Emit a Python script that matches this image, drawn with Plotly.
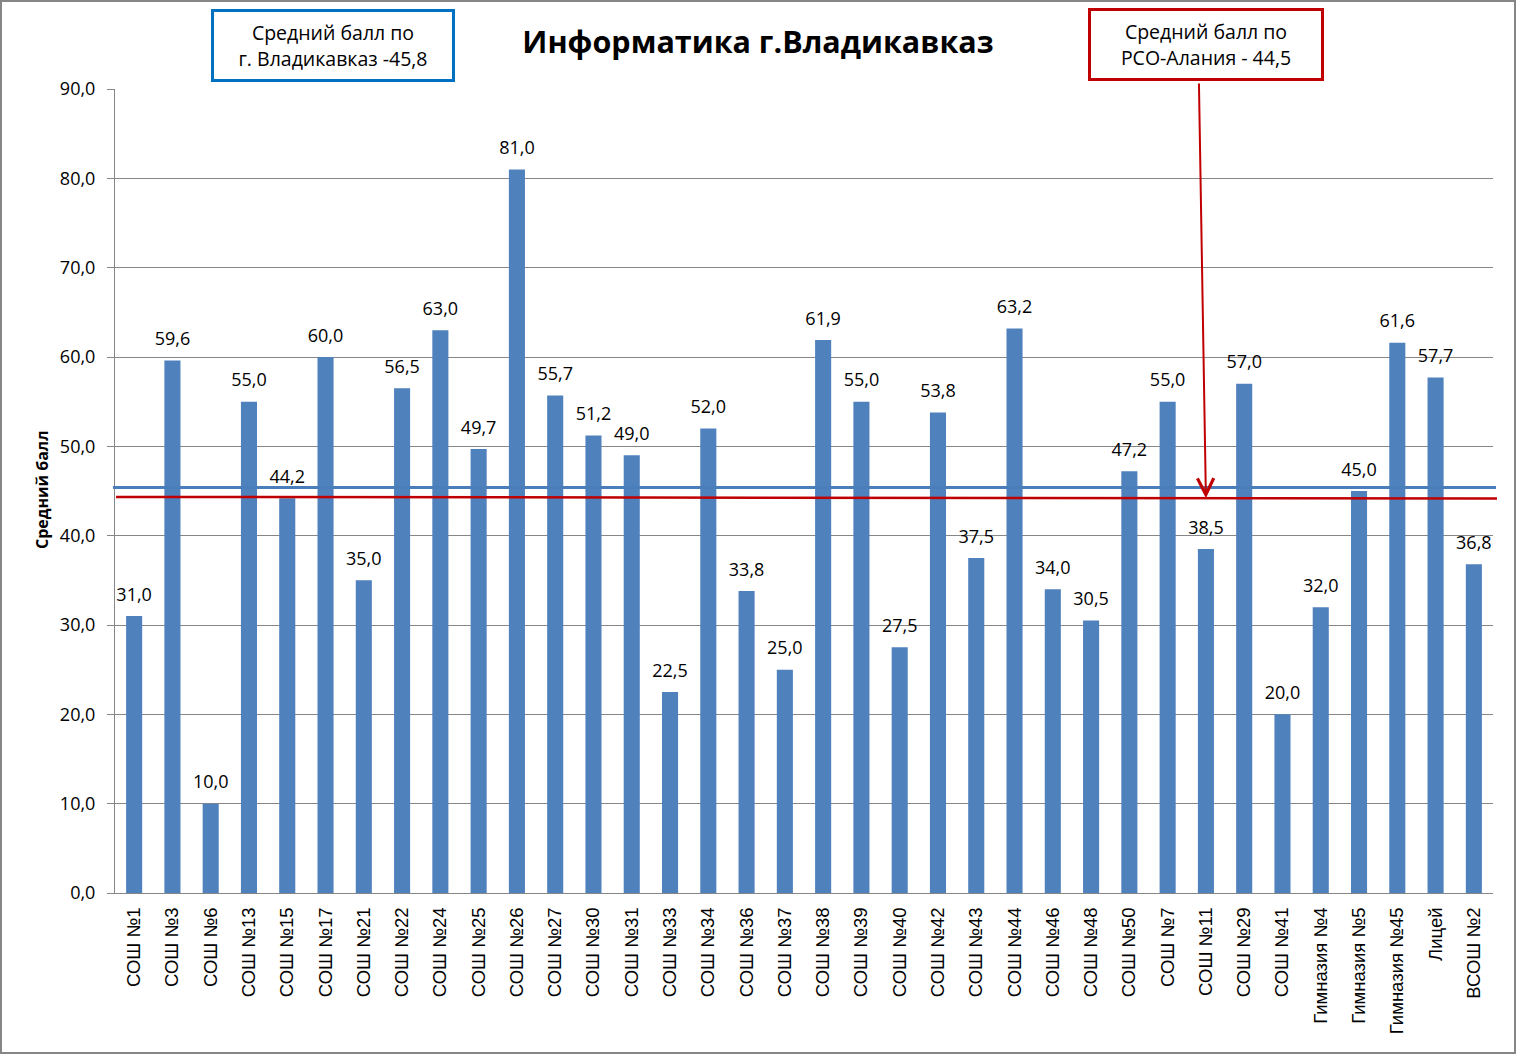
import plotly.graph_objects as go

categories = ["СОШ №1", "СОШ №3", "СОШ №6", "СОШ №13", "СОШ №15", "СОШ №17", "СОШ №21",
              "СОШ №22", "СОШ №24", "СОШ №25", "СОШ №26", "СОШ №27", "СОШ №30", "СОШ №31",
              "СОШ №33", "СОШ №34", "СОШ №36", "СОШ №37", "СОШ №38", "СОШ №39", "СОШ №40",
              "СОШ №42", "СОШ №43", "СОШ №44", "СОШ №46", "СОШ №48", "СОШ №50", "СОШ №7",
              "СОШ №11", "СОШ №29", "СОШ №41", "Гимназия №4", "Гимназия №5", "Гимназия №45",
              "Лицей", "ВСОШ №2"]
scores = [31.0, 59.6, 10.0, 55.0, 44.2, 60.0, 35.0, 56.5, 63.0, 49.7, 81.0, 55.7, 51.2, 49.0,
          22.5, 52.0, 33.8, 25.0, 61.9, 55.0, 27.5, 53.8, 37.5, 63.2, 34.0, 30.5, 47.2, 55.0,
          38.5, 57.0, 20.0, 32.0, 45.0, 61.6, 57.7, 36.8]

city_avg_line = 45.4                 # drawn line position (label says 45,8)
region_avg_line = (44.34, 44.16)     # drawn line, slightly sloped (label says 44,5)
city_label = "Средний балл по<br>г. Владикавказ -45,8"
region_label = "Средний балл по<br>РСО-Алания - 44,5"
title_text = "Информатика г.Владикавказ"
y_title = "Средний балл"

W, H = 1516, 1054
L, R, T, B = 115, 23, 89, 161
PW, PH = W - L - R, H - T - B

def px(x):
    return (x - L) / PW

def py(y):
    return (H - B - y) / PH

fig = go.Figure()
fig.add_trace(go.Bar(
    x=categories, y=scores,
    marker=dict(color="#4F81BD", line=dict(width=0)),
    hoverinfo="x+y",
))
# data labels
fig.add_trace(go.Scatter(
    x=categories, y=scores, mode="markers+text",
    marker=dict(size=16, color="rgba(0,0,0,0)"),
    text=[f"{v:.1f}".replace(".", ",") for v in scores],
    textposition="top center",
    textfont=dict(family="Open Sans", size=18, color="#000000"),
    cliponaxis=False, hoverinfo="skip",
))

fig.update_layout(
    width=W, height=H,
    margin=dict(l=L, r=R, t=T, b=B),
    paper_bgcolor="white", plot_bgcolor="white",
    separators=", ",
    bargap=0.58,
    showlegend=False,
    title=dict(text="<b>" + title_text + "</b>", x=758 / W, xanchor="center",
               y=1 - 42 / H, yanchor="middle",
               font=dict(family="Open Sans", size=30.5, color="#000000")),
    xaxis=dict(
        range=[-0.5, len(categories) - 0.5],
        tickangle=-90, showline=True, linecolor="#868686", linewidth=1,
        tickfont=dict(family="Liberation Sans", size=18.5, color="#000000"),
        ticks="", ticklabelstandoff=6, showgrid=False,
    ),
    yaxis=dict(
        range=[0, 90], dtick=10, tickformat=".1f",
        showline=True, linecolor="#868686", linewidth=1,
        gridcolor="#868686", gridwidth=1,
        ticks="outside", ticklen=7, tickcolor="#868686",
        ticklabelstandoff=8,
        tickfont=dict(family="Open Sans", size=18, color="#000000"),
        zeroline=False,
    ),
)

# average lines
fig.add_shape(type="line", xref="paper", yref="y", x0=px(113), x1=px(1496),
              y0=city_avg_line, y1=city_avg_line, line=dict(color="#4A7EBB", width=3))
fig.add_shape(type="line", xref="paper", yref="y", x0=px(116), x1=px(1497),
              y0=region_avg_line[0], y1=region_avg_line[1], line=dict(color="#C00000", width=2.5))

# outer border
fig.add_shape(type="rect", xref="paper", yref="paper",
              x0=px(1), x1=px(W - 1), y0=py(H - 1), y1=py(1),
              line=dict(color="#868686", width=2), fillcolor="rgba(0,0,0,0)", layer="above")

# boxes
fig.add_annotation(xref="paper", yref="paper", x=px(333), y=py(45.5),
                   xanchor="center", yanchor="middle", showarrow=False,
                   text=city_label, align="center",
                   width=238, height=67, borderwidth=3, borderpad=0,
                   bordercolor="#0070C0", bgcolor="white",
                   font=dict(family="Open Sans", size=19.5, color="#000000"))
fig.add_annotation(xref="paper", yref="paper", x=px(1206), y=py(44.5),
                   xanchor="center", yanchor="middle", showarrow=False,
                   text=region_label, align="center",
                   width=230, height=67, borderwidth=3, borderpad=0,
                   bordercolor="#C00000", bgcolor="white",
                   font=dict(family="Open Sans", size=19.5, color="#000000"))

# arrow
head_val = 44.2
head_px = H - B - head_val * PH / 90
fig.add_annotation(xref="x", yref="y", x="СОШ №11", y=head_val,
                   text="", showarrow=True, arrowhead=5, arrowsize=1.6, arrowwidth=2,
                   arrowcolor="#C00000", ax=-7, ay=82 - head_px,
                   standoff=0)

# y title
fig.add_annotation(xref="paper", yref="paper", x=px(42), y=py(490),
                   xanchor="center", yanchor="middle", showarrow=False,
                   text="<b>" + y_title + "</b>", textangle=-90,
                   font=dict(family="Open Sans", size=16, color="#000000"))

fig.write_html("out.html")
